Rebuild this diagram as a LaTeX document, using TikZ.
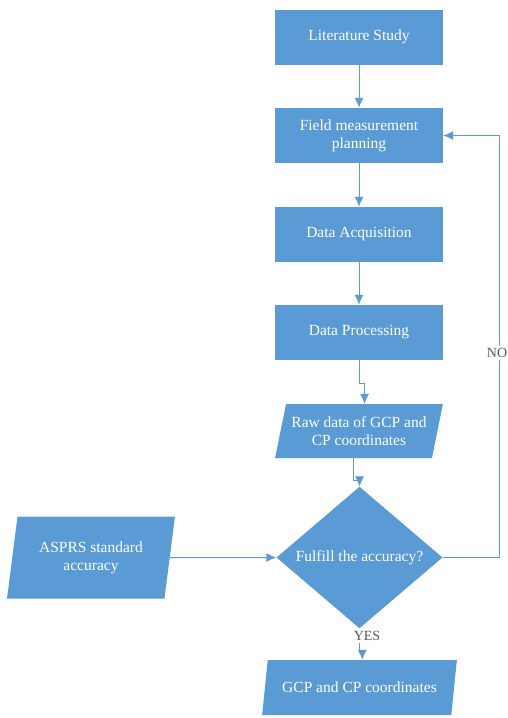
\documentclass[tikz,border=0pt]{standalone}
\usepackage{fontspec}
\setmainfont{Liberation Serif}
\usetikzlibrary{shapes.geometric,arrows.meta,calc}
\definecolor{boxblue}{HTML}{5B9BD5}
\definecolor{lineblue}{HTML}{5B9BD5}
\definecolor{labelgray}{HTML}{595959}

\begin{document}
\begin{tikzpicture}[x=1pt,y=-1pt,
		box/.style={rectangle, fill=boxblue, text=white, minimum width=168pt, minimum height=55pt, inner sep=2pt, align=center, font=\rmfamily\fontsize{15.5}{18}\selectfont},
		data/.style={trapezium, trapezium stretches=true, fill=boxblue, text=white, inner sep=2pt, align=center, font=\rmfamily\fontsize{15.5}{18}\selectfont},
		decision/.style={diamond, fill=boxblue, text=white, minimum width=166pt, minimum height=109pt, inner sep=0pt, font=\rmfamily\fontsize{15.5}{18}\selectfont},
		arr/.style={draw=lineblue, line width=1pt, -{Latex[length=10pt,width=9pt]}},
		lbl/.style={fill=white, text=labelgray, inner sep=2pt, font=\rmfamily\fontsize{14}{16}\selectfont}]
		\useasboundingbox (0,0) rectangle (508,718);

		\node[box] (lit) at (359,37) {Literature Study};
		\node[box] (field) at (359,135.5) {Field measurement\\planning};
		\node[box] (acq) at (359,234.5) {Data Acquisition};
		\node[box] (proc) at (359,332.5) {Data Processing};

		\node[data, minimum width=168pt, minimum height=54pt, trapezium left angle=72.5, trapezium right angle=107.5] (raw) at (359,431) {Raw data of GCP and\\CP coordinates};
		\node[decision] (dec) at (359.5,557.5) {Fulfill the accuracy?};
		\node[data, minimum width=168pt, minimum height=82pt, trapezium left angle=78, trapezium right angle=102] (asprs) at (91,557.5) {ASPRS standard\\accuracy};
		\node[data, minimum width=195pt, minimum height=55pt, trapezium left angle=72, trapezium right angle=108] (gcp) at (359.5,687.5) {GCP and CP coordinates};

		\coordinate (rawtop) at ($(raw.top left corner)!0.5!(raw.top right corner)$);
		\coordinate (rawbot) at ($(raw.bottom left corner)!0.5!(raw.bottom right corner)$);
		\coordinate (gcptop) at ($(gcp.top left corner)!0.5!(gcp.top right corner)$);

		\draw[arr] (lit) -- (field);
		\draw[arr] (field) -- (acq);
		\draw[arr] (acq) -- (proc);
		\draw[arr] (proc.south) -- ++(0,23) -| (rawtop);
		\draw[arr] (rawbot) -- ++(0,22) -| (dec.north);
		\draw[arr] (asprs.east) -- (dec.west);
		\draw[arr] (dec.east) -- ++(57,0) |- (field.east);
		\draw[arr] (dec.south) -- ++(0,24) -| (gcptop);

		\node[lbl] (no) at (497,353) {NO};
		\node[lbl] (yes) at (367,636) {YES};
\end{tikzpicture}
\end{document}
